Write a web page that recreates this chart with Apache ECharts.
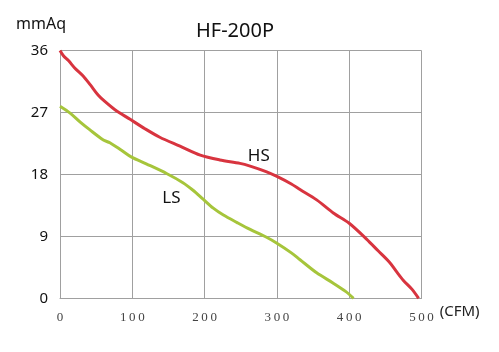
<!DOCTYPE html>
<html>
<head>
<meta charset="utf-8">
<script src="https://cdn.jsdelivr.net/npm/echarts@6/dist/echarts.min.js"></script>
<style>
  html, body { margin: 0; padding: 0; background: #fff; }
  #chart { width: 499px; height: 352px; }
</style>
</head>
<body>
<div id="chart"></div>
<script>
// 风量 (CFM) / 静压 (mmAq)
const hsFlow = [0, 5, 12, 20, 32, 42, 53, 62, 76, 97, 118, 138, 166, 194, 221, 249, 263, 285, 300, 320, 332, 355, 378, 400, 424, 440, 456, 466, 475, 487, 496];
const hsPressure = [36, 35.2, 34.5, 33.5, 32.3, 31, 29.5, 28.6, 27.4, 26, 24.6, 23.4, 22.1, 20.8, 20.1, 19.6, 19.2, 18.4, 17.7, 16.6, 15.8, 14.3, 12.4, 10.9, 8.6, 6.9, 5.2, 3.8, 2.6, 1.3, 0];

const lsFlow = [0, 14, 28, 41, 60, 69, 85, 99, 120, 148, 170, 184, 198, 212, 226, 245, 263, 285, 300, 320, 332, 355, 378, 395, 406];
const lsPressure = [27.9, 26.9, 25.6, 24.5, 23, 22.6, 21.5, 20.5, 19.5, 18.1, 16.8, 15.7, 14.4, 13.1, 12.1, 11, 10, 8.9, 8, 6.6, 5.6, 3.7, 2.2, 1, 0];

const xTicks = [0, 100, 200, 300, 400, 500];
const yTicks = [0, 9, 18, 27, 36];

const toPairs = (xs, ys) => xs.map((x, i) => [x, ys[i]]);

const chart = echarts.init(document.getElementById('chart'));

const gridLine = { show: true, lineStyle: { color: '#a0a0a0', width: 1 } };

chart.setOption({
  animation: false,
  title: {
    text: 'HF-200P',
    left: 230,
    top: 16,
    textAlign: 'center',
    textStyle: { fontFamily: 'Noto Sans', fontSize: 20, fontWeight: 'normal', color: '#111' }
  },
  graphic: [
    {
      type: 'text',
      left: 16,
      top: 16,
      style: { text: 'mmAq', font: '16px "Noto Sans"', fill: '#111' }
    }
  ],
  grid: { left: 60, right: 77.5, top: 50.5, bottom: 53.7 },
  xAxis: {
    type: 'value',
    min: 0,
    max: 500,
    interval: 100,
    name: '(CFM)',
    nameLocation: 'end',
    nameGap: 16,
    nameTextStyle: {
      fontFamily: 'Noto Sans',
      fontSize: 15,
      color: '#222',
      verticalAlign: 'top',
      padding: [6, 0, 0, 0]
    },
    axisLine: { show: true, lineStyle: { color: '#a0a0a0' } },
    axisTick: { show: false },
    splitLine: gridLine,
    axisLabel: {
      margin: 13,
      fontFamily: 'Liberation Serif',
      fontSize: 13,
      color: '#444',
      formatter: (v) => xTicks.includes(v) ? String(v).split('').join('\u2009') : ''
    }
  },
  yAxis: {
    type: 'value',
    min: 0,
    max: 36,
    interval: 9,
    axisLine: { show: true, lineStyle: { color: '#a0a0a0' } },
    axisTick: { show: false },
    splitLine: gridLine,
    axisLabel: {
      margin: 12,
      fontFamily: 'Noto Sans',
      fontSize: 15,
      color: '#111',
      formatter: (v) => yTicks.includes(v) ? String(v) : ''
    }
  },
  series: [
    {
      name: 'HS',
      type: 'line',
      data: toPairs(hsFlow, hsPressure),
      smooth: 0.3,
      showSymbol: false,
      lineStyle: { color: '#d8343f', width: 3 },
      markPoint: {
        symbol: 'circle',
        symbolSize: 0,
        data: [{ coord: [275, 20.6] }],
        label: {
          show: true,
          formatter: 'HS',
          fontFamily: 'Noto Sans',
          fontSize: 17,
          color: '#111'
        }
      }
    },
    {
      name: 'LS',
      type: 'line',
      data: toPairs(lsFlow, lsPressure),
      smooth: 0.3,
      showSymbol: false,
      lineStyle: { color: '#a6c53b', width: 3 },
      markPoint: {
        symbol: 'circle',
        symbolSize: 0,
        data: [{ coord: [154, 14.6] }],
        label: {
          show: true,
          formatter: 'LS',
          fontFamily: 'Noto Sans',
          fontSize: 17,
          color: '#111'
        }
      }
    }
  ]
});

window.addEventListener('resize', () => chart.resize());
</script>
</body>
</html>
